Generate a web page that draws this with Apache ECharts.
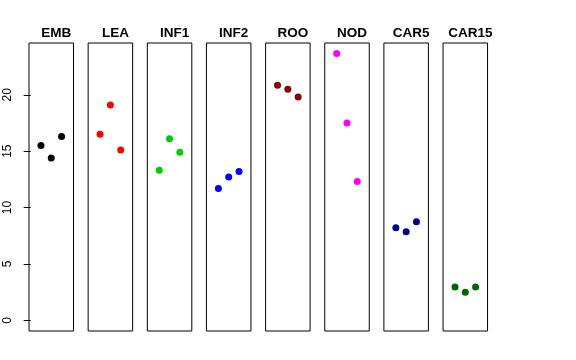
<!DOCTYPE html>
<html>
<head>
<meta charset="utf-8">
<script src="https://cdn.jsdelivr.net/npm/echarts@6/dist/echarts.min.js"></script>
<style>html,body{margin:0;padding:0;background:#fff;}#c{width:576px;height:360px;}</style>
</head>
<body>
<div id="c"></div>
<script>
var categories = ['EMB', 'LEA', 'INF1', 'INF2', 'ROO', 'NOD', 'CAR5', 'CAR15'];
var EMB = [15.5, 14.4, 16.3];
var LEA = [16.5, 19.1, 15.1];
var INF1 = [13.3, 16.1, 14.9];
var INF2 = [11.7, 12.7, 13.2];
var ROO = [20.85, 20.5, 19.8];
var NOD = [23.65, 17.5, 12.3];
var CAR5 = [8.2, 7.85, 8.75];
var CAR15 = [2.95, 2.5, 2.95];
var seriesValues = [EMB, LEA, INF1, INF2, ROO, NOD, CAR5, CAR15];
var colors = ['#000000', '#FF0000', '#00CD00', '#0000FF', '#8B0000', '#FF00FF', '#00008B', '#006400'];
var yTicks = [0, 5, 10, 15, 20];

var chart = echarts.init(document.getElementById('c'), null, {renderer: 'canvas'});
var grids = [], xAxes = [], yAxes = [], series = [], titles = [];
var panelLeft0 = 29, panelStep = 59.15, panelW = 44.5, panelTop = 43, panelH = 288;
var yMin = -0.946, yMax = 24.59;
categories.forEach(function (cat, i) {
  var l = panelLeft0 + i * panelStep;
  grids.push({left: l, top: panelTop, width: panelW, height: panelH, show: true, borderColor: '#000', borderWidth: 1, backgroundColor: 'transparent'});
  xAxes.push({type: 'value', gridIndex: i, min: -0.16, max: 4.16, show: false});
  if (i === 0) {
    yAxes.push({type: 'value', gridIndex: i, min: yMin, max: yMax,
      axisLine: {show: false},
      splitLine: {show: false},
      axisTick: {show: true, length: 7, customValues: yTicks, lineStyle: {color: '#000', width: 1}},
      axisLabel: {show: true, customValues: yTicks, rotate: 90, margin: 15, fontSize: 12, color: '#000', fontFamily: 'Liberation Sans, Arial, sans-serif'}
    });
  } else {
    yAxes.push({type: 'value', gridIndex: i, min: yMin, max: yMax, show: false});
  }
  series.push({
    type: 'scatter', xAxisIndex: i, yAxisIndex: i,
    symbol: 'circle', symbolSize: 7,
    itemStyle: {color: colors[i], opacity: 1},
    data: seriesValues[i].map(function (v, k) { return [k + 1, v]; }),
    silent: true
  });
  titles.push({text: cat, left: l + panelW / 2, top: 21, textAlign: 'center',
    textStyle: {fontSize: 13.5, fontWeight: 'bold', color: '#000', fontFamily: 'Liberation Sans, Arial, sans-serif'}});
});
chart.setOption({
  animation: false,
  backgroundColor: '#fff',
  title: titles,
  grid: grids,
  xAxis: xAxes,
  yAxis: yAxes,
  series: series
});
</script>
</body>
</html>
